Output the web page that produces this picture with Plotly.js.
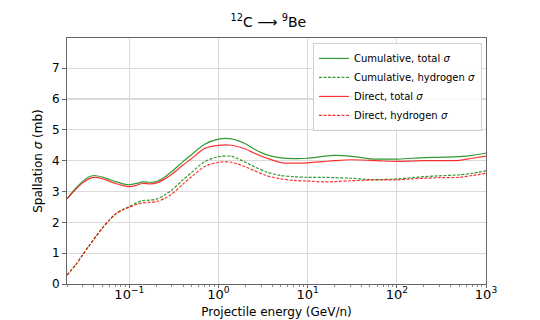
<!DOCTYPE html>
<html>
<head>
<meta charset="utf-8">
<script src="https://cdn.plot.ly/plotly-3.0.1.min.js"></script>
<style>
  html, body { margin: 0; padding: 0; background: #fff; }
  #plot { width: 540px; height: 320px; }
</style>
</head>
<body>
<div id="plot"></div>
<script>
// projectile energy, GeV/n
var energy = [0.02, 0.025, 0.03, 0.035, 0.04, 0.05, 0.06, 0.07, 0.085, 0.1,
              0.12, 0.14, 0.17, 0.2, 0.25, 0.3, 0.4, 0.5, 0.7, 1.0,
              1.4, 2.0, 2.5, 3.5, 5, 7, 10, 15, 20, 30,
              50, 70, 100, 150, 200, 300, 500, 700, 1000];

// spallation cross sections, mb
var cumTotal = [2.76, 3.10, 3.33, 3.47, 3.52, 3.47, 3.39, 3.32, 3.25, 3.22,
                3.26, 3.31, 3.30, 3.32, 3.47, 3.65, 3.97, 4.20, 4.53, 4.70,
                4.71, 4.55, 4.38, 4.19, 4.09, 4.07, 4.08, 4.14, 4.17, 4.15,
                4.06, 4.05, 4.05, 4.08, 4.10, 4.11, 4.13, 4.17, 4.25];
var cumHydrogen = [0.29, 0.62, 0.95, 1.22, 1.45, 1.82, 2.08, 2.27, 2.42, 2.51,
                   2.63, 2.70, 2.72, 2.75, 2.89, 3.05, 3.38, 3.62, 3.97, 4.13,
                   4.14, 3.95, 3.81, 3.63, 3.52, 3.48, 3.46, 3.46, 3.45, 3.43,
                   3.39, 3.39, 3.41, 3.45, 3.48, 3.51, 3.54, 3.59, 3.67];
var dirTotal = [2.76, 3.07, 3.28, 3.41, 3.46, 3.42, 3.33, 3.26, 3.19, 3.16,
                3.20, 3.26, 3.25, 3.27, 3.41, 3.56, 3.86, 4.07, 4.40, 4.50,
                4.50, 4.38, 4.25, 4.08, 3.94, 3.92, 3.93, 3.97, 4.00, 4.03,
                4.01, 3.99, 3.98, 3.99, 4.00, 4.00, 4.01, 4.08, 4.15];
var dirHydrogen = [0.29, 0.62, 0.95, 1.22, 1.45, 1.82, 2.08, 2.27, 2.41, 2.49,
                   2.58, 2.63, 2.65, 2.67, 2.78, 2.92, 3.24, 3.48, 3.81, 3.95,
                   3.95, 3.80, 3.68, 3.51, 3.41, 3.36, 3.34, 3.31, 3.32, 3.35,
                   3.37, 3.38, 3.38, 3.41, 3.43, 3.45, 3.46, 3.52, 3.59];

// x tick labels
var xTickVals = [0.1, 1, 10, 100, 1000];
var xTickText = ["10<sup>−1</sup>", "10<sup>0</sup>", "10<sup>1</sup>", "10<sup>2</sup>", "10<sup>3</sup>"];
var yTickVals = [0, 1, 2, 3, 4, 5, 6, 7];

var green = "rgba(0,128,0,0.8)";
var red = "rgba(255,0,0,0.8)";

function curve(y, name, color, dash) {
    return {
        x: energy, y: y, name: name,
        type: "scatter", mode: "lines",
        line: {color: color, width: 1.2, dash: dash, shape: "spline", smoothing: 0.8}
    };
}

var data = [
    curve(cumTotal, "Cumulative, total <i>σ</i>", green, "solid"),
    curve(cumHydrogen, "Cumulative, hydrogen <i>σ</i>", green, "3px,1.5px"),
    curve(dirTotal, "Direct, total <i>σ</i>", red, "solid"),
    curve(dirHydrogen, "Direct, hydrogen <i>σ</i>", red, "3px,1.5px")
];

var layout = {
    width: 540, height: 320,
    margin: {l: 67, r: 54, t: 38, b: 36},
    paper_bgcolor: "#fff", plot_bgcolor: "#fff",
    font: {family: "DejaVu Sans", size: 12, color: "#000"},
    title: {
        text: "<sup>12</sup>C ⟶ <sup>9</sup>Be",
        font: {size: 14},
        x: 0.497, xanchor: "center",
        y: 0.93, yanchor: "middle"
    },
    xaxis: {
        type: "log",
        range: [Math.log10(0.02), 3],
        tickvals: xTickVals,
        ticktext: xTickText,
        tickfont: {size: 13},
        showgrid: true, gridcolor: "#dadada", gridwidth: 1.2,
        showline: true, linecolor: "#666", linewidth: 1, mirror: true,
        ticks: "outside", ticklen: 3, tickcolor: "#666",
        ticklabelstandoff: -5,
        minor: {ticks: "outside", ticklen: 2, tickcolor: "#888", dtick: "D1", showgrid: false},
        zeroline: false,
        title: {text: "Projectile energy (GeV/n)", font: {size: 12}, standoff: 2},
        automargin: false
    },
    yaxis: {
        range: [0, 7.98],
        tickvals: yTickVals,
        showgrid: true, gridcolor: "#dadada", gridwidth: 1.2,
        showline: true, linecolor: "#666", linewidth: 1, mirror: true,
        ticks: "outside", ticklen: 4, tickcolor: "#666",
        zeroline: false,
        title: {text: "Spallation <i>σ</i> (mb)", font: {size: 12}, standoff: 6},
        automargin: false
    },
    legend: {
        x: 0.587, xanchor: "left",
        y: 0.98, yanchor: "top",
        bgcolor: "rgba(255,255,255,0.85)",
        bordercolor: "#d0d0d0", borderwidth: 1,
        font: {size: 10},
        tracegroupgap: 0
    },
    showlegend: true
};

Plotly.newPlot("plot", data, layout, {staticPlot: true, displayModeBar: false}).then(function () {
    // nudge the x axis title below the tick labels
    var t = document.querySelector(".xtitle");
    if (t) { t.setAttribute("y", 315); }
});
</script>
</body>
</html>
